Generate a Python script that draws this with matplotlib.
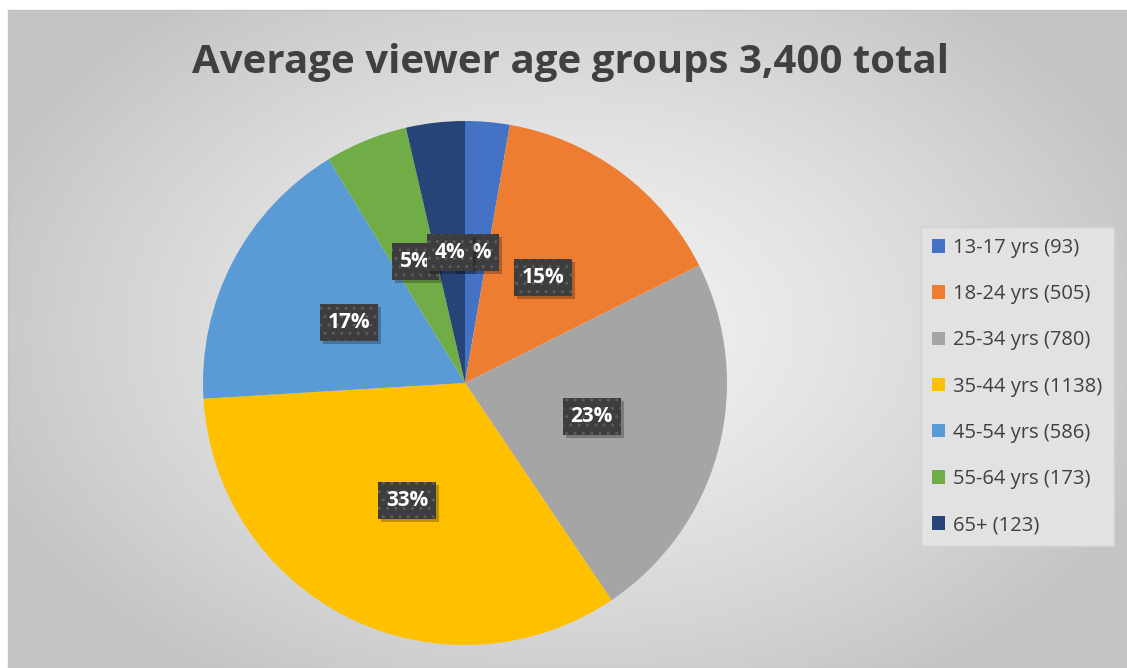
import numpy as np
import matplotlib
matplotlib.use("Agg")
import matplotlib.pyplot as plt
from matplotlib.patches import Patch
import matplotlib.transforms as mtransforms

# ---- data ----
categories = ["13-17 yrs", "18-24 yrs", "25-34 yrs", "35-44 yrs", "45-54 yrs", "55-64 yrs", "65+"]
counts = [93, 505, 780, 1138, 586, 173, 123]
colors = ["#4472C4", "#ED7D31", "#A5A5A5", "#FFC000", "#5B9BD5", "#70AD47", "#264478"]
title = "Average viewer age groups 3,400 total"
legend_labels = [f"{c} ({n})" for c, n in zip(categories, counts)]

W, H = 1127, 668
fig = plt.figure(figsize=(W / 100, H / 100), dpi=100)
fig.patch.set_facecolor("white")

# ---- background radial gradient ----
x0, y0 = 8, 10
bg = fig.add_axes([x0 / W, 0, 1 - x0 / W, 1 - y0 / H])
nx, ny = 400, 240
xs = np.linspace(x0, W, nx)
ys = np.linspace(y0, H, ny)
X, Y = np.meshgrid(xs, ys)
cx, cy = 570, 330
d = np.sqrt(((X - cx) / 620) ** 2 + ((Y - cy) / 420) ** 2)
d = np.clip(d, 0, 1)
inner, outer = 0.955, 0.77
val = inner + (outer - inner) * d ** 1.3
img = np.dstack([val, val, val])
bg.imshow(img, extent=[0, 1, 0, 1], aspect="auto", origin="upper")
bg.set_xlim(0, 1)
bg.set_ylim(0, 1)
bg.set_xticks([])
bg.set_yticks([])
for s in bg.spines.values():
    s.set_color("#c4c4c4")
    s.set_linewidth(1)

# ---- pie ----
pcx, pcy, r = 465, 383, 262
ax = fig.add_axes([(pcx - r) / W, 1 - (pcy + r) / H, 2 * r / W, 2 * r / H])
ax.set_facecolor("none")
wedges, texts, autotexts = ax.pie(
    counts, colors=colors, startangle=90, counterclock=False,
    autopct="%.0f%%", pctdistance=0.5, radius=1.0,
    wedgeprops=dict(linewidth=0),
)
ax.set_xlim(-1, 1)
ax.set_ylim(-1, 1)
ax.set_aspect("equal")

fs = 15
zorders = [5, 6, 7, 8, 9, 5.5, 10]
for i, t in enumerate(autotexts):
    t.set_color("white")
    t.set_fontsize(fs)
    t.set_fontweight("bold")
    t.set_family("Open Sans")
    t.set_zorder(zorders[i] + 0.5)
    t.set_bbox(dict(boxstyle="square,pad=0.38", facecolor="#3d3d3d",
                    edgecolor="#5c5c5c", linewidth=0, hatch=".."))
    # shadow
    x, y = t.get_position()
    off = mtransforms.offset_copy(ax.transData, fig=fig, x=3, y=-3, units="dots")
    ax.text(x, y, t.get_text(), transform=off, ha="center", va="center",
            fontsize=fs, fontweight="bold", family="Open Sans", color="none",
            zorder=zorders[i],
            bbox=dict(boxstyle="square,pad=0.38", facecolor="black",
                      alpha=0.25, linewidth=0))

# ---- title ----
fig.text(571 / W, 1 - 63 / H, title, ha="center", va="center",
         fontsize=29, fontweight="bold", family="Open Sans", color="#404040")

# ---- legend ----
handles = [Patch(facecolor=c, edgecolor="none") for c in colors]
leg = fig.legend(handles, legend_labels, loc="upper left",
                 bbox_to_anchor=(921 / W, 1 - 227 / H),
                 prop=dict(family="Open Sans", size=14.5),
                 labelcolor="#404040", frameon=True, fancybox=False,
                 handlelength=0.65, handleheight=0.65, handletextpad=0.4,
                 labelspacing=1.3, borderpad=0.55, borderaxespad=0)
fr = leg.get_frame()
fr.set_facecolor("#e2e2e2")
fr.set_edgecolor("#d2d2d2")
fr.set_alpha(1)

fig.savefig("out.png", dpi=100)
